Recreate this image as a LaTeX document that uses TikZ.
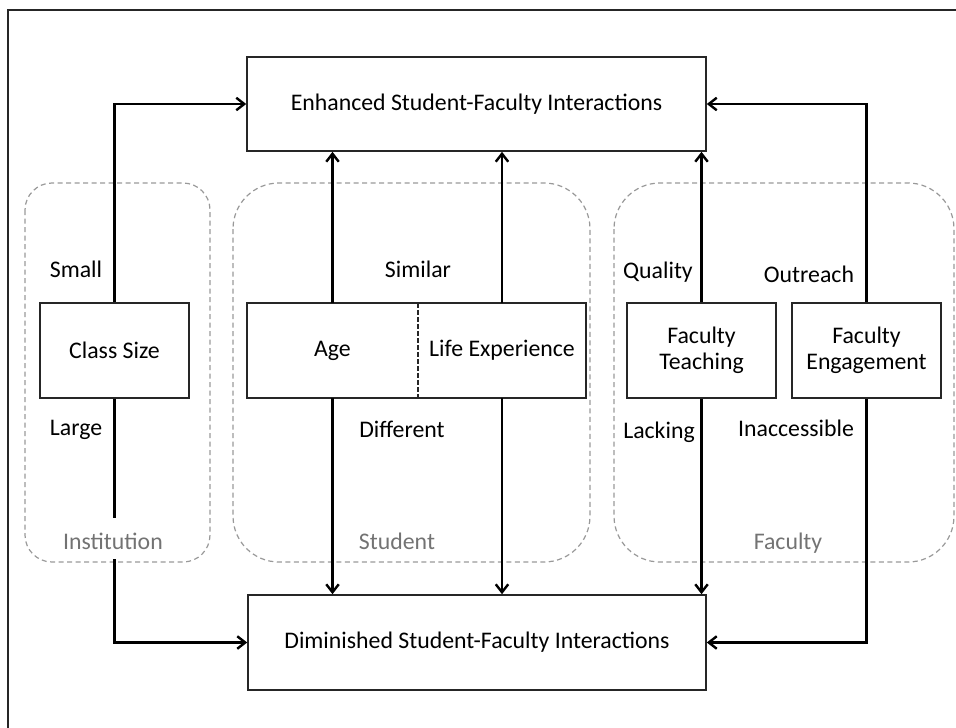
\documentclass[tikz,border=0pt]{standalone}
\usepackage{fontspec}
\setmainfont{Carlito}
\usetikzlibrary{arrows.meta}
\begin{document}
\begin{tikzpicture}[x=1pt,y=-1pt,
  every node/.style={font=\fontsize{23.8}{26.5}\selectfont, text=black},
  box/.style={draw=black!85, line width=1.6pt, inner sep=0pt, align=center},
  cell/.style={inner sep=0pt, minimum height=95pt},
  group/.style={draw=black!40, line width=1.2pt, dash pattern=on 5pt off 3.5pt},
  link/.style={draw=black, line width=2.6pt},
  arr/.style={link, -{Straight Barb[length=8pt,width=12.5pt,line width=2.4pt]}},
  tag/.style={anchor=base, inner sep=0pt},
  grouplabel/.style={tag, text=black!55}
]
\useasboundingbox (0,0) rectangle (956,728);

% frame
\draw[line width=2.6pt, black!85] (8,740) -- (8,10) -- (970,10);

% dashed groupings
\draw[group, rounded corners=27pt] (25,183) rectangle (210,562);
\draw[group, rounded corners=46pt] (233,183) rectangle (590,562);
\draw[group, rounded corners=46pt] (614,183) rectangle (954,562);

% outcome boxes
\node[box, minimum width=459pt, minimum height=94pt] (enh) at (476.5,104)
  {Enhanced Student-Faculty Interactions};
\node[box, minimum width=458pt, minimum height=95pt] (dim) at (477,642.5)
  {Diminished Student-Faculty Interactions};

% factor boxes
\node[box, minimum width=149pt, minimum height=95pt] (cs) at (114.5,350.5) {Class Size};
\node[cell, minimum width=171pt] (age) at (332.5,350.5) {Age};
\node[cell, minimum width=168pt] (life) at (502,350.5) {Life Experience};
\draw[black!85, line width=1.6pt] (age.north west) rectangle (life.south east);
\draw[black!85, line width=1.6pt, dash pattern=on 5pt off 2pt] (age.north east) -- (age.south east);
\node[box, minimum width=149pt, minimum height=95pt] (ft) at (701.5,350.5) {Faculty\\Teaching};
\node[box, minimum width=149pt, minimum height=95pt] (fe) at (866.5,350.5) {Faculty\\Engagement};

% connectors
\draw[arr] (cs.north) |- (enh.west);
\draw[arr] (cs.south) |- (dim.west);
\draw[arr] (age.north) -- (age.north |- enh.south);
\draw[arr] (age.south) -- (age.south |- dim.north);
\draw[arr] (life.north) -- (life.north |- enh.south);
\draw[arr] (life.south) -- (life.south |- dim.north);
\draw[arr] (ft.north) -- (ft.north |- enh.south);
\draw[arr] (ft.south) -- (ft.south |- dim.north);
\draw[arr] (fe.north) |- (enh.east);
\draw[arr] (fe.south) |- (dim.east);

% connector labels
\node[tag] (small) at (76,277) {Small};
\node[tag] (large) at (76,435) {Large};
\node[tag] (similar) at (418,277) {Similar};
\node[tag] (different) at (402,437) {Different};
\node[tag] (quality) at (658,278) {Quality};
\node[tag] (outreach) at (809,282) {Outreach};
\node[tag] (lacking) at (659,438) {Lacking};
\node[tag] (inacc) at (796,436) {Inaccessible};

% group labels
\node[grouplabel, fill=white, inner xsep=3pt, inner ysep=10pt, text height=21pt, text depth=0pt]
  (inst) at (113,549) {Institution};
\node[grouplabel] (stud) at (397,549) {Student};
\node[grouplabel] (fac) at (788,549) {Faculty};
\end{tikzpicture}
\end{document}
